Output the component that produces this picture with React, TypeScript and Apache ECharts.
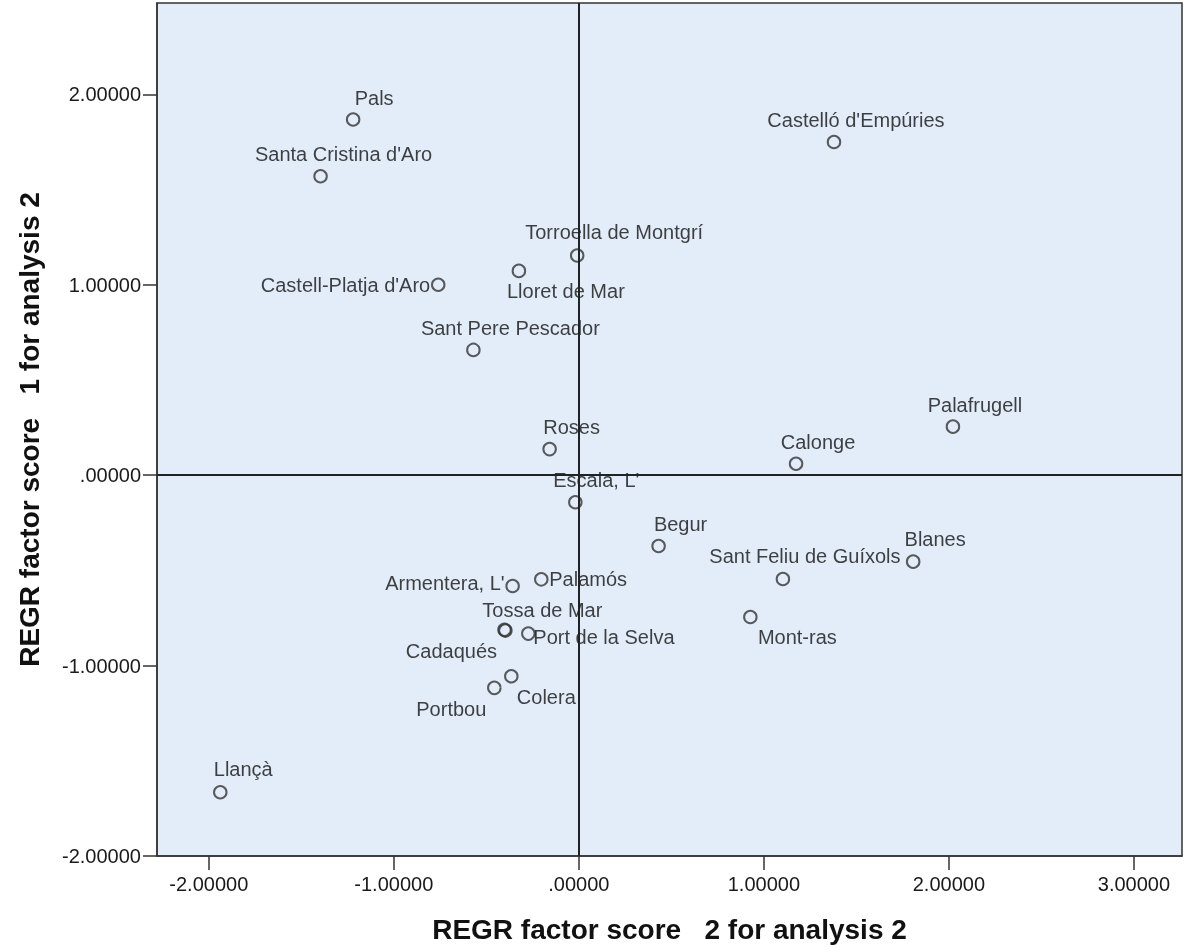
import React, { useEffect, useRef } from "react";
import * as echarts from "echarts";

// ---- data ----
const names = [
  "Pals",
  "Santa Cristina d'Aro",
  "Castelló d'Empúries",
  "Torroella de Montgrí",
  "Lloret de Mar",
  "Castell-Platja d'Aro",
  "Sant Pere Pescador",
  "Roses",
  "Palafrugell",
  "Calonge",
  "Escala, L'",
  "Begur",
  "Blanes",
  "Sant Feliu de Guíxols",
  "Armentera, L'",
  "Palamós",
  "Mont-ras",
  "Tossa de Mar",
  "Cadaqués",
  "Port de la Selva",
  "Colera",
  "Portbou",
  "Llançà",
];
// REGR factor score 2 (x)
const score2 = [
  -1.22, -1.396, 1.379, -0.009, -0.324, -0.76, -0.57, -0.158, 2.022, 1.174,
  -0.019, 0.431, 1.807, 1.103, -0.358, -0.203, 0.927, -0.397, -0.402, -0.273,
  -0.365, -0.457, -1.938,
];
// REGR factor score 1 (y)
const score1 = [
  1.868, 1.57, 1.75, 1.154, 1.073, 1.0, 0.658, 0.137, 0.255, 0.06, -0.142,
  -0.372, -0.454, -0.545, -0.582, -0.547, -0.745, -0.816, -0.812, -0.832,
  -1.056, -1.117, -1.665,
];
const xTicks = [-2, -1, 0, 1, 2, 3];
const yTicks = [-2, -1, 0, 1, 2];

// ---- label placement (layout only) : [dx, dy, align] ----
const labelPlacement: [number, number, string][] = [
  [21, -22, "center"],
  [23, -22, "center"],
  [22, -22, "center"],
  [37, -23, "center"],
  [47, 20, "center"],
  [-8, 0, "right"],
  [37, -22, "center"],
  [22, -22, "center"],
  [22, -22, "center"],
  [22, -22, "center"],
  [21, -22, "center"],
  [22, -22, "center"],
  [22, -23, "center"],
  [22, -23, "center"],
  [-8, -3, "right"],
  [8, 0, "left"],
  [47, 20, "center"],
  [37, -21, "center"],
  [-53, 21, "center"],
  [5, 3, "left"],
  [35, 21, "center"],
  [-43, 21, "center"],
  [23, -23, "center"],
];

const FONT = "'Liberation Sans', Arial, sans-serif";
const fmt = (v: number) => (v === 0 ? ".00000" : v.toFixed(5));

export default function App() {
  const ref = useRef<HTMLDivElement>(null);
  useEffect(() => {
    if (!ref.current) return;
    const chart = echarts.init(ref.current, undefined, { renderer: "svg" });
    const data = names.map((n, i) => ({
      name: n,
      value: [score2[i], score1[i]],
      label: {
        show: true,
        position: "inside",
        offset: [labelPlacement[i][0], labelPlacement[i][1]],
        align: labelPlacement[i][2],
        verticalAlign: "middle",
        formatter: n,
      },
    }));
    chart.setOption({
      animation: false,
      textStyle: { fontFamily: FONT },
      grid: {
        left: 157,
        right: 4,
        top: 3,
        bottom: 90,
        show: true,
        backgroundColor: "#E3EDFA",
        borderColor: "#333",
        borderWidth: 1.5,
      },
      xAxis: {
        type: "value",
        min: -2.28,
        max: 3.26,
        name: "REGR factor score   2 for analysis 2",
        nameLocation: "middle",
        nameGap: 59,
        nameTextStyle: {
          fontSize: 28,
          fontWeight: "bold",
          color: "#111",
          fontFamily: FONT,
        },
        axisLine: { show: true, onZero: false, lineStyle: { color: "#333", width: 1.5 } },
        axisTick: {
          show: true,
          customValues: xTicks,
          length: 14,
          lineStyle: { color: "#333", width: 1.5 },
        },
        axisLabel: {
          customValues: xTicks,
          formatter: fmt,
          fontSize: 20,
          color: "#1a1a1a",
          margin: 18,
          fontFamily: FONT,
        },
        splitLine: { show: false },
      },
      yAxis: {
        type: "value",
        min: -2,
        max: 2.48,
        name: "REGR factor score   1 for analysis 2",
        nameLocation: "middle",
        nameGap: 114,
        nameTextStyle: {
          fontSize: 28,
          fontWeight: "bold",
          color: "#111",
          fontFamily: FONT,
        },
        axisLine: { show: true, onZero: false, lineStyle: { color: "#333", width: 1.5 } },
        axisTick: {
          show: true,
          customValues: yTicks,
          length: 14,
          lineStyle: { color: "#333", width: 1.5 },
        },
        axisLabel: {
          customValues: yTicks,
          formatter: fmt,
          fontSize: 20,
          color: "#1a1a1a",
          margin: 16,
          fontFamily: FONT,
        },
        splitLine: { show: false },
      },
      series: [
        {
          type: "scatter",
          symbol: "circle",
          symbolSize: 12.5,
          itemStyle: { color: "rgba(0,0,0,0)", borderColor: "#333", borderWidth: 2 },
          label: { color: "#111", fontSize: 20, fontFamily: FONT },
          emphasis: { disabled: true },
          data,
          markLine: {
            silent: true,
            symbol: ["none", "none"],
            label: { show: false },
            lineStyle: { color: "#222", width: 2, type: "solid" },
            data: [{ xAxis: 0 }, { yAxis: 0 }],
          },
        },
      ],
    });
    return () => chart.dispose();
  }, []);
  return (
    <div
      ref={ref}
      style={{ position: "fixed", left: 0, top: 0, width: 1186, height: 948 }}
    />
  );
}
